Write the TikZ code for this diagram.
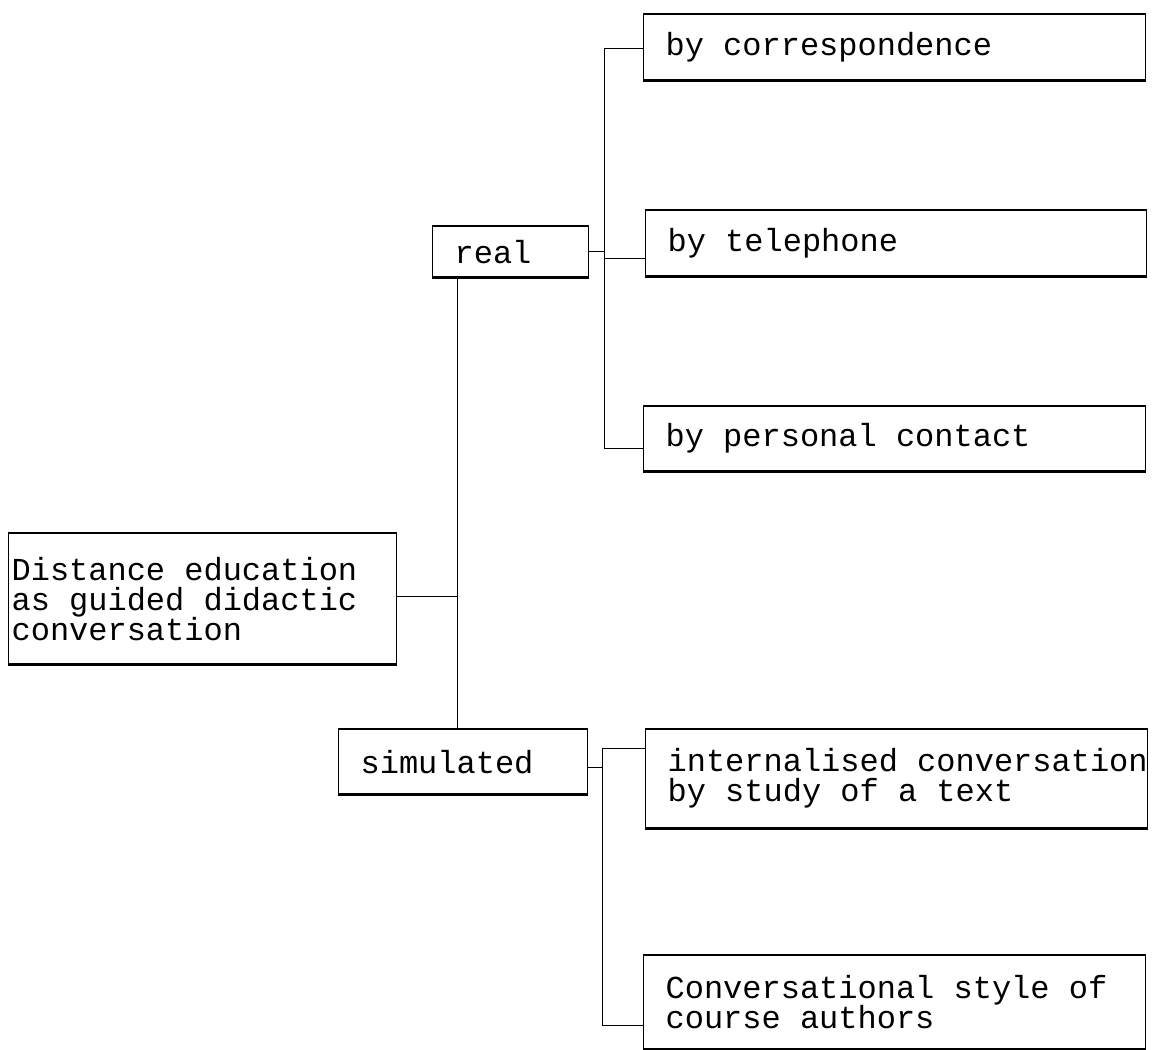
\documentclass[tikz,border=0pt]{standalone}
\usepackage{fontspec}
\setmonofont{Liberation Mono}
\usepackage{xcolor}
\usepackage{tikz}
\usetikzlibrary{positioning}

\begin{document}
\begin{tikzpicture}[
    x=1pt, y=-1pt,
    box/.style={
      rectangle, draw, line width=1.2pt, anchor=north west,
      inner xsep=22pt, inner ysep=0pt, align=flush left,
      font=\ttfamily\fontsize{32}{30}\selectfont,
      append after command={
        (\tikzlastnode.north west) edge[line width=2.6pt] (\tikzlastnode.north east)
        (\tikzlastnode.south west) edge[line width=2.6pt] (\tikzlastnode.south east)
      }
    },
    link/.style={line width=1pt},
  ]
  \useasboundingbox (0,0) rectangle (1160,1050);

  %% ── Root (left) ───────────────────────────────────────────────────────
  \node[box, inner xsep=3pt, text width=382pt, minimum height=130pt]
      (dist) at (8,533) {Distance education\\as guided didactic\\conversation};

  %% ── Two modes (middle column) ─────────────────────────────────────────
  \node[box, text width=112pt, minimum height=50pt] (real) at (432,226) {real};
  \node[box, text width=205pt, minimum height=64pt] (sim)  at (338,729) {simulated};

  %% ── Real forms (right column, top) ────────────────────────────────────
  \node[box, text width=458pt, minimum height=65pt] (corr) at (643,14)  {by correspondence};
  \node[box, text width=457pt, minimum height=65pt] (tele) at (645,210) {by telephone};
  \node[box, text width=458pt, minimum height=64pt] (pers) at (643,406) {by personal contact};

  %% ── Simulated forms (right column, bottom) ────────────────────────────
  \node[box, text width=458pt, minimum height=98pt] (intl) at (645,729)
      {internalised~conversation\\by study of a text};
  \node[box, text width=458pt, minimum height=93pt] (conv) at (643,955)
      {Conversational style of\\course authors};

  %% ── Root → modes ──────────────────────────────────────────────────────
  \coordinate (rootx) at (457,596);
  \draw[link] (real.south -| rootx) -- (sim.north -| rootx);
  \draw[link] (dist.east |- rootx) -- (rootx);

  %% ── real → its three forms ────────────────────────────────────────────
  \coordinate (rtop) at (604,48);
  \coordinate (rmid) at (604,258);
  \coordinate (rbot) at (604,448);
  \draw[link] (rtop) -- (rbot);
  \draw[link] (real.east) -- (real.east -| rtop);
  \draw[link] (rtop) -- (rtop -| corr.west);
  \draw[link] (rmid) -- (rmid -| tele.west);
  \draw[link] (rbot) -- (rbot -| pers.west);

  %% ── simulated → its two forms ─────────────────────────────────────────
  \coordinate (stop)  at (602,748);
  \coordinate (sbot)  at (602,1025);
  \coordinate (sjoin) at (595,767);
  \draw[link] (stop) -- (sbot);
  \draw[link] (sim.east |- sjoin) -- (stop |- sjoin);
  \draw[link] (stop) -- (stop -| intl.west);
  \draw[link] (sbot) -- (sbot -| conv.west);

\end{tikzpicture}
\end{document}
